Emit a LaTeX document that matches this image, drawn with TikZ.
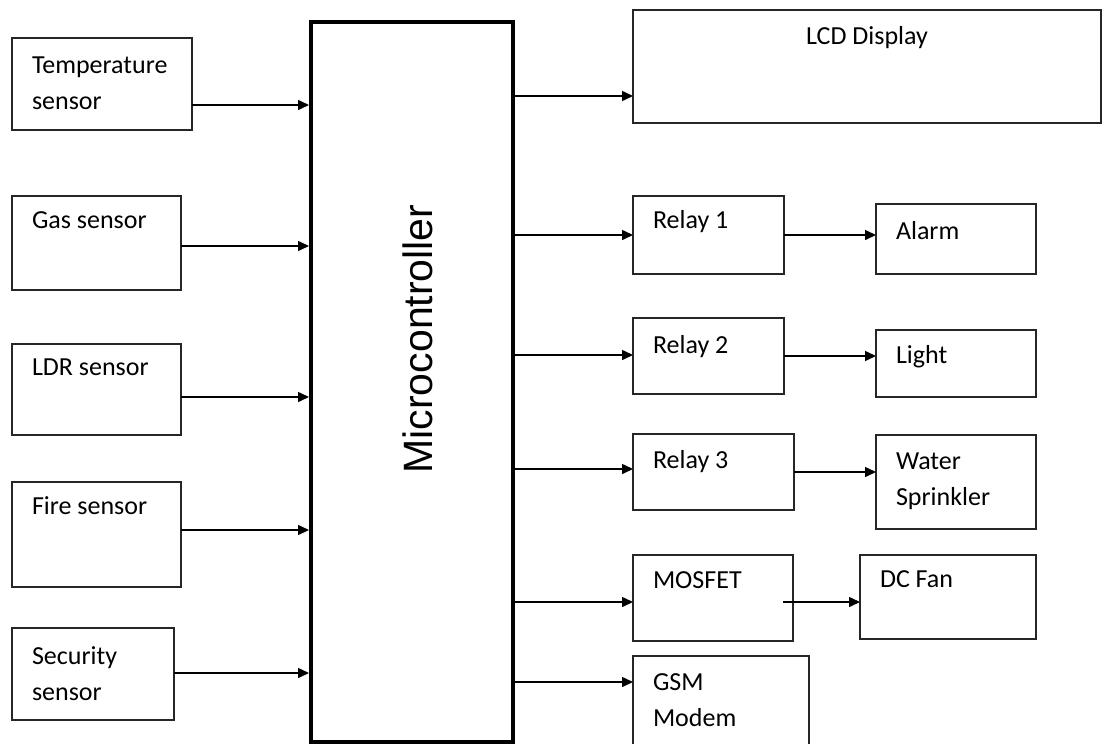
\documentclass[tikz,border=0pt]{standalone}
\usepackage{fontspec}
\setmainfont{Carlito}
\newfontfamily\mcufont{Liberation Sans}
\usetikzlibrary{arrows.meta}
\tikzset{
  blk/.style={draw=black!85,line width=1.5pt,rectangle,anchor=north west,outer sep=0pt,inner xsep=20pt,inner ysep=0pt,align=flush left,font=\fontsize{26}{36}\selectfont},
  arr/.style={-{Triangle[length=11pt,width=10pt]},line width=1.5pt}
}
\begin{document}
\begin{tikzpicture}[x=1pt,y=-1pt]
\path[use as bounding box,fill=white] (0,0) rectangle (1111,744);
\node[draw,line width=4pt,anchor=north west,minimum width=202pt,minimum height=720pt,inner sep=0pt] (mcu) at (309,20) {};
\node[rotate=90,font=\mcufont\fontsize{41}{48}\selectfont] (mcutext) at ([xshift=6pt,yshift=43pt]mcu.center) {Microcontroller};
\node[blk,text width=140pt,text height=35pt,text depth=57pt] (temp) at (12,38) {Temperature\\sensor};
\node[blk,text width=129pt,text height=32pt,text depth=62pt] (gas) at (12,196) {Gas sensor};
\node[blk,text width=129pt,text height=31pt,text depth=60pt] (ldr) at (12,344) {LDR sensor};
\node[blk,text width=129pt,text height=32pt,text depth=73pt] (fire) at (12,482) {Fire sensor};
\node[blk,text width=122pt,text height=36pt,text depth=56pt] (sec) at (12,628) {Security\\sensor};
\node[blk,align=flush center,text width=428pt,text height=34pt,text depth=79pt] (lcd) at (633,10) {LCD Display};
\node[blk,text width=111pt,text height=32pt,text depth=46pt] (relay1) at (633,196) {Relay 1};
\node[blk,text width=111pt,text height=35pt,text depth=41pt] (relay2) at (633,318) {Relay 2};
\node[blk,text width=121pt,text height=34pt,text depth=42pt] (relay3) at (633,434) {Relay 3};
\node[blk,text width=120pt,text height=33pt,text depth=53pt] (mosfet) at (633,555) {MOSFET};
\node[blk,text width=136pt,text height=34pt,text depth=58pt] (gsm) at (633,656) {GSM\\Modem};
\node[blk,text width=120pt,text height=35pt,text depth=35pt] (alarm) at (876,204) {Alarm};
\node[blk,text width=120pt,text height=33pt,text depth=34pt] (light) at (876,330) {Light};
\node[blk,text width=120pt,text height=34pt,text depth=60pt] (water) at (876,435) {Water\\Sprinkler};
\node[blk,text width=136pt,text height=32pt,text depth=52pt] (fan) at (860,555) {DC Fan};
\foreach \s/\d in {temp/-21,gas/-3,ldr/-7.5,fire/4.5,sec/1}{\path ([yshift=\d pt]\s.east) coordinate (a); \draw[arr] (a) -- (a -| mcu.west);}
\foreach \t/\d in {lcd/-29.5,relay1/0,relay2/1,relay3/3,mosfet/-4,gsm/20}{\path ([yshift=\d pt]\t.west) coordinate (b); \draw[arr] (b -| mcu.east) -- (b);}
\foreach \a/\b in {relay1/alarm,relay2/light,relay3/water}{\draw[arr] (\a.east) -- (\a.east -| \b.west);}
\path ([xshift=-10pt,yshift=-4pt]mosfet.east) coordinate (m); \draw[arr] (m) -- (m -| fan.west);
\end{tikzpicture}
\end{document}
